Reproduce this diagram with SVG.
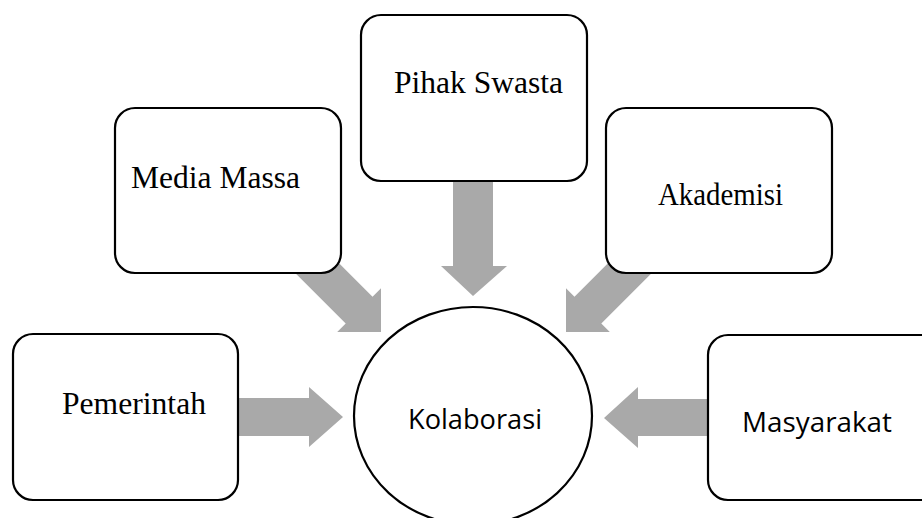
<svg xmlns="http://www.w3.org/2000/svg" width="922" height="518" viewBox="0 0 922 518">
<style>
.box{fill:#fff;stroke:#000;stroke-width:2.2}
.arrow{fill:#A9A9A9;stroke:none}
.serif{font-family:"Liberation Serif","Times New Roman",serif;font-size:31px;fill:#000}
.sans{font-family:"Open Sans","Liberation Sans",sans-serif;font-size:27px;fill:#000}
</style>
<rect width="922" height="518" fill="#fff"/>
<g id="connectors">
<polygon class="arrow" points="220,398 309,398 309,387 343,417 309,447 309,436 220,436"/>
<polygon class="arrow" points="720,399 638,399 638,387 604,418 638,448 638,436 720,436"/>
<polygon class="arrow" points="453,170 493,170 493,266 507,266 473,296 441,266 453,266"/>
<polygon class="arrow" points="301.8,226 372.5,296.7 381,288.2 381,332 337.2,332 345.7,323.5 275,252.8"/>
<polygon class="arrow" points="645.2,226 574.5,296.7 566,288.2 566,332 609.8,332 601.3,323.5 672,252.8"/>
</g>
<g id="node-pemerintah">
<rect class="box" x="13" y="334" width="225" height="166" rx="20"/>
<text class="serif" x="62" y="414" textLength="144" lengthAdjust="spacingAndGlyphs">Pemerintah</text>
</g>
<g id="node-media-massa">
<rect class="box" x="115" y="108" width="226" height="165" rx="20"/>
<text class="serif" x="131" y="188" textLength="169" lengthAdjust="spacingAndGlyphs">Media Massa</text>
</g>
<g id="node-pihak-swasta">
<rect class="box" x="361" y="15" width="226" height="166" rx="20"/>
<text class="serif" x="394" y="93" textLength="169" lengthAdjust="spacingAndGlyphs">Pihak Swasta</text>
</g>
<g id="node-akademisi">
<rect class="box" x="606" y="108" width="226" height="165" rx="20"/>
<text class="serif" x="658" y="205" font-size="29" textLength="125" lengthAdjust="spacingAndGlyphs">Akademisi</text>
</g>
<g id="node-masyarakat">
<rect class="box" x="708" y="335" width="240" height="165" rx="20"/>
<text class="sans" x="742" y="432" textLength="150" lengthAdjust="spacingAndGlyphs">Masyarakat</text>
</g>
<g id="node-kolaborasi">
<ellipse class="box" cx="473" cy="416" rx="119" ry="109"/>
<text class="sans" x="408" y="429" textLength="134" lengthAdjust="spacingAndGlyphs">Kolaborasi</text>
</g>
</svg>
